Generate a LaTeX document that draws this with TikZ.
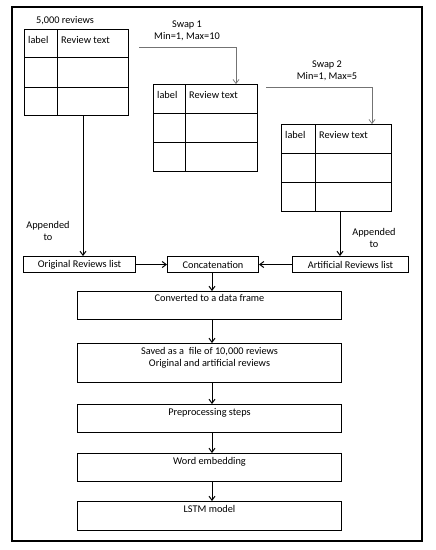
\documentclass[tikz,border=0pt]{standalone}
\usepackage{fontspec}
\setmainfont{Carlito}
\usetikzlibrary{arrows.meta,calc}
\begin{document}
\begin{tikzpicture}[x=1pt,y=-1pt,
  every node/.style={font=\fontsize{10.3}{12}\selectfont, inner sep=0pt},
  box/.style={draw, line width=1pt, anchor=north west},
  tline/.style={line width=1pt},
  arr/.style={line width=1pt, -{Straight Barb[length=4pt,width=6pt]}},
  swp/.style={draw=black!55, line width=0.7pt, -{Straight Barb[length=4pt,width=6pt]}},
  txt/.style={align=center}
]
\useasboundingbox (0,0) rectangle (436,550);
\fill[white] (0,0) rectangle (436,550);
\draw[line width=1.8pt] (12,7) rectangle (422,541);

% Table 1
\node[box, minimum width=104pt, minimum height=86pt] (t1) at (24,29) {};
\draw[tline] (24,57) -- (128,57) (24,87) -- (128,87) (57,29) -- (57,115);
\node[anchor=west] (t1a) at (28,40) {label};
\node[anchor=west] (t1b) at (61,40) {Review text};
\node (t1cap) at (65,21) {5,000 reviews};

% Table 2
\node[box, minimum width=104pt, minimum height=87pt] (t2) at (153,84) {};
\draw[tline] (153,113) -- (257,113) (153,142) -- (257,142) (185,84) -- (185,171);
\node[anchor=west] (t2a) at (157,95) {label};
\node[anchor=west] (t2b) at (189,95) {Review text};

% Table 3
\node[box, minimum width=110pt, minimum height=87pt] (t3) at (281,124) {};
\draw[tline] (281,153) -- (391,153) (281,182) -- (391,182) (315,124) -- (315,211);
\node[anchor=west] (t3a) at (285,135) {label};
\node[anchor=west] (t3b) at (319,135) {Review text};

% swaps
\node[txt] (s1) at (187,31) {Swap 1\\Min=1, Max=10};
\coordinate (s1start) at (139,47);
\draw[swp] (s1start) -- (236,47) -- (t2.north -| 236,0);
\node[txt] (s2) at (327,70.5) {Swap 2\\Min=1, Max=5};
\coordinate (s2start) at (266,87);
\draw[swp] (s2start) -- (372,87) -- (t3.north -| 372,0);

% list boxes
\node[box, minimum width=112pt, minimum height=16pt] (orig) at (23,256) {};
\node (origt) at (orig.center) {Original Reviews list};
\node[box, minimum width=91pt, minimum height=16pt] (conc) at (167,256) {};
\node (conct) at (conc.center) {Concatenation};
\node[box, minimum width=116pt, minimum height=16pt] (arti) at (292,256) {};
\node (artit) at (arti.center) {Artificial Reviews list};

\node[txt] (ap1) at (48,231) {Appended\\to};
\node[txt] (ap2) at (374,237.5) {Appended\\to};

\draw[arr] (t1.south -| 83,0) -- (orig.north -| 83,0);
\draw[arr] (t3.south -| 340,0) -- (arti.north -| 340,0);
\draw[arr] (orig.east) -- (conc.west);
\draw[arr] (arti.west) -- (conc.east);

% pipeline boxes
\node[box, minimum width=264pt, minimum height=28pt] (conv) at (77,291) {};
\node[anchor=north] (convt) at ($(conv.north)+(0,3)$) {Converted to a data frame};
\node[box, minimum width=264pt, minimum height=39pt] (save) at (77,343) {};
\node[anchor=north, txt] (savet) at ($(save.north)+(0,4)$) {Saved as a\ \ file of 10,000 reviews\\Original and artificial reviews};
\node[box, minimum width=264pt, minimum height=28pt] (prep) at (77,404) {};
\node[anchor=north] (prept) at ($(prep.north)+(0,4)$) {Preprocessing steps};
\node[box, minimum width=264pt, minimum height=28pt] (word) at (77,453) {};
\node[anchor=north] (wordt) at ($(word.north)+(0,4)$) {Word embedding};
\node[box, minimum width=264pt, minimum height=29pt] (lstm) at (77,501) {};
\node[anchor=north] (lstmt) at ($(lstm.north)+(0,4)$) {LSTM model};

\draw[arr] (conc.south -| 212,0) -- (conv.north -| 212,0);
\draw[arr] (conv.south -| 212,0) -- (save.north -| 212,0);
\draw[arr] (save.south -| 212,0) -- (prep.north -| 212,0);
\draw[arr] (prep.south -| 212,0) -- (word.north -| 212,0);
\draw[arr] (word.south -| 212,0) -- (lstm.north -| 212,0);
\end{tikzpicture}
\end{document}
